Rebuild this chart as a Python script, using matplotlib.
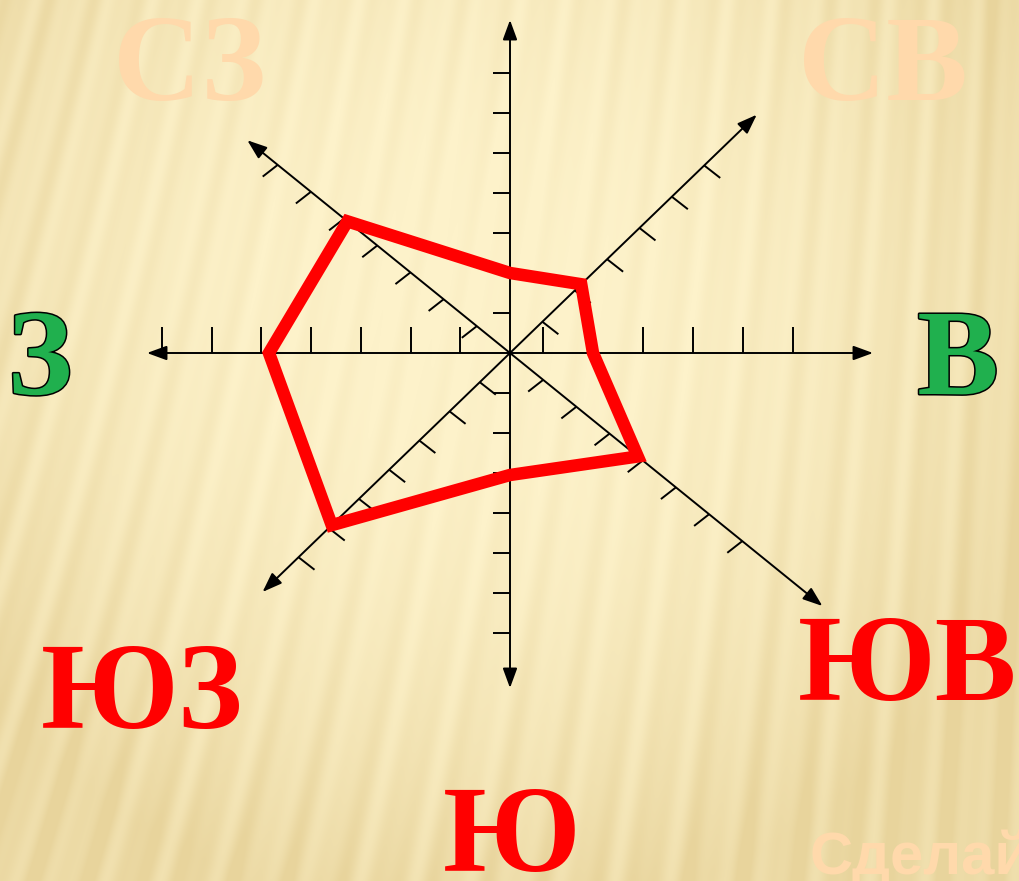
import numpy as np
import matplotlib
matplotlib.use('Agg')
import matplotlib.pyplot as plt
import matplotlib.patheffects as pe
from matplotlib.patches import Polygon

# wind rose, values in tick units, order N, NE, E, SE, S, SW, W, NW
directions = ['С', 'СВ', 'В', 'ЮВ', 'Ю', 'ЮЗ', 'З', 'СЗ']
days = [2, 2.2, 2, 3.85, 3.05, 5.9, 4.85, 4.9]

# geometry of the hand drawn axes (pixels, y grows downwards)
cx, cy = 510, 353
angles = [90, 44, 0, -39, -90, 224, 180, 141]
step = [40, 45, 50, 42.7, 40, 42, 49.7, 42.7]
first = [40, 45, 33, 42.7, 40, 42, 49.7, 42.7]
nticks = [7, 6, 6, 7, 7, 7, 7, 7]
length = [333, 343, 363, 402, 335, 344, 363, 338]
tickvec = [(-17, 0), (16, 12.5), (0, -26), (-15, 11.7),
           (-17, 0), (16, 12.5), (0, -26), (-15, 11.7)]


def point(i, r):
    a = np.radians(angles[i])
    return cx + r * np.cos(a), cy - r * np.sin(a)


def background(W=1020, H=881):
    yy, xx = np.mgrid[0:H, 0:W].astype(float)
    lean = 0.22 * (1 - xx / W) + 0.04
    u = xx + lean * yy
    stripes = 0.6 * np.sin(2 * np.pi * u / 41) + 0.4 * np.sin(2 * np.pi * u / 23 + 1.0)
    r = np.sqrt(((xx - 470) / 620) ** 2 + ((yy - 300) / 620) ** 2)
    t = np.clip(r, 0, 1) ** 2 * 0.85
    t = t + stripes * (0.10 + 0.22 * t)
    t = np.clip(t, 0, 1)[..., None]
    light = np.array([253, 242, 202]) / 255
    dark = np.array([232, 212, 156]) / 255
    return light * (1 - t) + dark * t


fig = plt.figure(figsize=(10.2, 8.81), dpi=100)
ax = fig.add_axes([0, 0, 1, 1])
ax.imshow(background(), extent=(0, 1020, 881, 0), aspect='auto', zorder=0)
ax.set_xlim(0, 1020)
ax.set_ylim(881, 0)
ax.axis('off')

# axes lines with arrows at both ends
for i in range(4):
    a = point(i, length[i])
    b = point(i + 4, length[i + 4])
    ax.annotate('', xy=a, xytext=b,
                arrowprops=dict(arrowstyle='<|-|>,head_length=0.6,head_width=0.22',
                                color='black', lw=1.4, mutation_scale=20,
                                shrinkA=0, shrinkB=0), zorder=2)

# ticks
for i in range(8):
    for k in range(nticks[i]):
        x0, y0 = point(i, first[i] + k * step[i])
        dx, dy = tickvec[i]
        ax.plot([x0, x0 + dx], [y0, y0 + dy], color='black', lw=1.4,
                solid_capstyle='butt', zorder=2)

# red rose
pts = [point(i, first[i] + (v - 1) * step[i]) for i, v in enumerate(days)]
ax.add_patch(Polygon(pts, closed=True, fill=False, edgecolor='#ff0000',
                     lw=9, joinstyle='miter', zorder=3))

# direction labels
green_fx = [pe.withStroke(linewidth=2.2, foreground='black')]
lab = dict(family='Liberation Serif', weight='bold', fontsize=88, va='baseline')
ax.text(189, 100, 'СЗ', color='#ffd9ab', ha='center', **lab)
ax.text(883, 100, 'СВ', color='#ffd9ab', ha='center', **lab)
ax.text(40, 394, 'З', color='#20b04e', ha='center', path_effects=green_fx, **lab)
ax.text(958, 394, 'В', color='#20b04e', ha='center', path_effects=green_fx, **lab)
ax.text(142, 728, 'ЮЗ', color='#ff0000', ha='center', **lab)
ax.text(1017, 700, 'ЮВ', color='#ff0000', ha='right', **lab)
ax.text(512, 871, 'Ю', color='#ff0000', ha='center', **lab)
ax.text(810, 874, 'Сделай', color='#ffd9ab', family='Liberation Sans',
        weight='bold', fontsize=43, ha='left', va='baseline')

fig.savefig('out.png', dpi=100)
